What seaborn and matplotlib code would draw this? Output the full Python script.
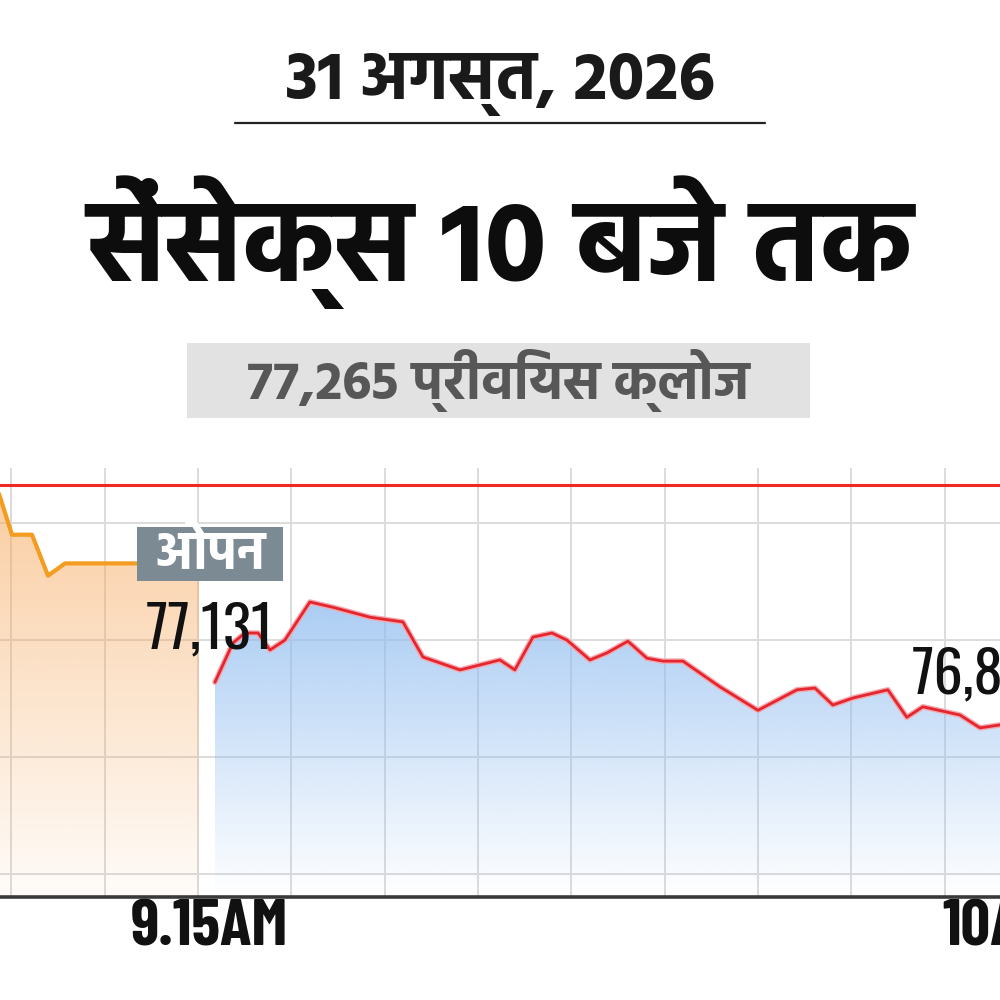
import numpy as np
import matplotlib
matplotlib.use("Agg")
import matplotlib.pyplot as plt
from matplotlib import font_manager as fm
from matplotlib.patches import Rectangle
from matplotlib.lines import Line2D
import seaborn as sns

# pre-open session (minutes after 9:00) and Sensex level
pre_time = [3.0, 3.79, 4.93, 5.84, 6.81, 14.43]
pre_value = [77255, 77180, 77180, 77110, 77131, 77131]

# regular session from 9:15 to 10:00
day_time = [15.34, 16.36, 17.05, 17.79, 18.47, 19.32, 20.74, 22.05, 24.16, 26.03,
            27.17, 29.28, 31.55, 32.40, 33.43, 34.51, 35.36, 36.67, 37.64, 38.83,
            39.91, 40.82, 41.96, 44.07, 46.23, 48.45, 49.47, 50.49, 51.63, 53.62,
            54.70, 55.61, 57.72, 58.86, 60.0]
day_value = [76928, 76995, 77012, 77012, 76983, 77000, 77065, 77056, 77039, 77031,
             76971, 76949, 76966, 76949, 77005, 77012, 77000, 76966, 76978, 76998,
             76969, 76964, 76964, 76920, 76880, 76915, 76918, 76889, 76901, 76915,
             76868, 76886, 76872, 76850, 76855]

prev_close = 77265
open_value = 77131
last_value = 76855
tick_pos = [15, 60]
tick_labels = ["9.15AM", "10AM"]
y_grid = [76600, 76800, 77000, 77200]


def pick(names, fallback="DejaVu Sans"):
    have = {f.name for f in fm.fontManager.ttflist}
    for n in names:
        if n in have:
            return n
    return fallback


HINDI = pick(["Hind", "Mukta", "Poppins", "Noto Sans Devanagari", "Biryani"])
NARROW = pick(["Oswald", "Antonio", "Pathway Gothic One", "Roboto Condensed", "Barlow Condensed"])
NARROW_BOLD = pick(["Barlow Condensed", "Roboto Condensed", "Asap Condensed", "Oswald"])

sns.set_style("white")
plt.rcParams["font.family"] = [HINDI, "DejaVu Sans"]


def gradient_fill(ax, x, y, bottom, color, a_top, a_bottom, top):
    poly = ax.fill_between(x, y, bottom, facecolor="none", linewidth=0)
    rgb = matplotlib.colors.to_rgb(color)
    grad = np.zeros((256, 1, 4))
    grad[:, 0, :3] = rgb
    grad[:, 0, 3] = np.linspace(a_bottom, a_top, 256)
    im = ax.imshow(grad, aspect="auto", origin="lower", zorder=1,
                   extent=[min(x), max(x), bottom, top])
    im.set_clip_path(poly.get_paths()[0], transform=ax.transData)


fig = plt.figure(figsize=(10, 10), dpi=100)
ax = fig.add_axes([0, 0.103, 1.0, 0.429])

ylo, yhi = 76561, 77294
gradient_fill(ax, pre_time, pre_value, ylo, "#f6a556", 0.55, 0.04, max(pre_value))
gradient_fill(ax, day_time, day_value, ylo, "#8fbcf0", 0.75, 0.0, max(day_value))

sns.lineplot(x=pre_time, y=pre_value, ax=ax, color="#f39c1f", linewidth=3.0, zorder=3)
sns.lineplot(x=day_time, y=day_value, ax=ax, color="#f4a7ad", linewidth=4.0, zorder=3)
sns.lineplot(x=day_time, y=day_value, ax=ax, color="#e3262f", linewidth=2.0, zorder=3)
ax.axhline(prev_close, color="#ee2a24", linewidth=2.2, zorder=3)

ax.set_xlim(3.11, 60.0)
ax.set_ylim(ylo, yhi)

# grid
ax.set_axisbelow(True)
ax.set_yticks(y_grid)
ax.set_xticks(np.arange(3.76, 60, 5.31), minor=True)
ax.grid(True, which="minor", axis="x", color="#d6d6d6", linewidth=1.2)
ax.grid(True, which="major", axis="y", color="#dcdcdc", linewidth=1.4)
ax.set_xticks(tick_pos)
ax.set_xticklabels(tick_labels, fontfamily=NARROW_BOLD, fontweight="bold",
                   fontsize=47, color="#111111")
ax.tick_params(axis="x", which="both", length=0, pad=2)
ax.tick_params(axis="y", length=0, labelleft=False)
for s in ["top", "left", "right"]:
    ax.spines[s].set_visible(False)
ax.spines["bottom"].set_color("#3a3a3a")
ax.spines["bottom"].set_linewidth(2.6)
ax.set_xlabel("")
ax.set_ylabel("")

# "open" tag: box of 146 x 54 px around the label
open_x, open_y = 15.06, 77147
ax.add_patch(Rectangle((open_x - 4.15, open_y - 46), 8.3, 92, facecolor="#7b8a93",
                       edgecolor="none", zorder=4))
ax.text(open_x, open_y, "ओपन", ha="center", va="center", fontsize=38,
        fontweight="bold", color="white", zorder=5)
ax.text(15.06, 77017, f"{open_value:,}", ha="center", va="center", fontsize=42,
        fontfamily=NARROW, fontweight="light", color="#111111", zorder=5)
ax.text(55.0, 76940, f"{last_value:,}", ha="left", va="center", fontsize=42,
        fontfamily=NARROW, fontweight="light", color="#111111", zorder=5)

# header
fig.text(0.5, 0.915, "31 अगस्त, 2026", ha="center", va="center", fontsize=49,
         fontweight="bold", color="#1a1a1a")
fig.add_artist(Line2D([0.235, 0.765], [0.877, 0.877], color="#222222", linewidth=1.6))
fig.text(0.5, 0.758, "सेंसेक्स 10 बजे तक", ha="center", va="center", fontsize=82,
         fontweight="bold", color="#0d0d0d")
fig.add_artist(Rectangle((0.187, 0.582), 0.623, 0.075, transform=fig.transFigure,
                         facecolor="#e2e2e2", edgecolor="none"))
fig.text(0.4985, 0.619, f"{prev_close:,} प्रीवियस क्लोज", ha="center", va="center",
         fontsize=39, fontweight="bold", color="#575757")

fig.savefig("out.png", dpi=100)
plt.close(fig)
